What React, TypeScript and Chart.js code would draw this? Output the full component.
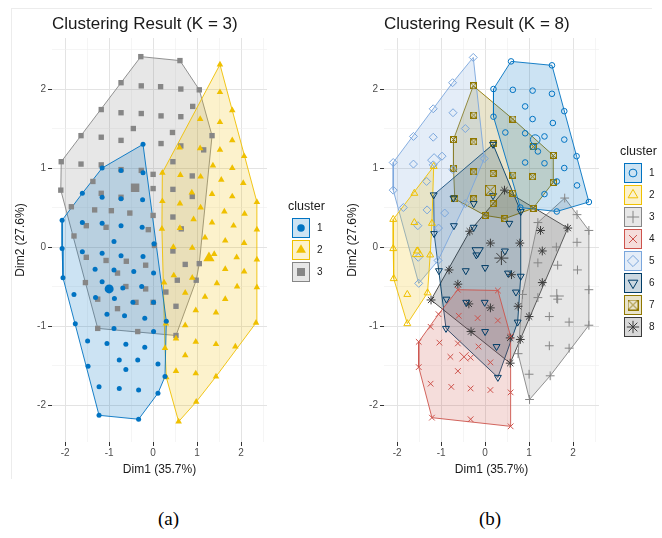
import React, { useEffect, useRef } from 'react';
import { Chart, registerables } from 'chart.js';
import { drawPoint } from 'chart.js/helpers';

Chart.register(...registerables);

type P = [number, number];

// ---------- K = 3 ----------
const K3_CLUSTER1: P[] = [
  [-0.23, 1.30], [-1.16, 1.00], [-0.73, 0.97], [-0.23, 0.94],
  [-1.61, 0.68], [-1.16, 0.63], [-0.73, 0.61], [-0.24, 0.60],
  [-2.07, 0.34], [-1.61, 0.31], [-1.16, 0.30], [-0.73, 0.27], [-0.25, 0.25],
  [-0.89, 0.07], [-2.07, -0.02], [-1.61, -0.06], [-1.16, -0.08], [-0.73, -0.11], [-0.23, -0.12], [0.02, 0.04],
  [-2.05, -0.39], [-1.80, -0.60], [-1.32, -0.28], [-0.89, -0.29], [-0.44, -0.31], [0.01, -0.33],
  [-1.16, -0.44], [-0.69, -0.52], [-0.26, -0.50],
  [-1.31, -0.64], [-0.88, -0.65], [-0.46, -0.70], [0.01, -0.70], [0.30, -0.94],
  [-1.05, -0.85], [-0.65, -0.87], [-0.19, -0.90],
  [-1.77, -0.97], [-0.89, -1.03], [0.01, -1.07],
  [-1.49, -1.19], [-1.05, -1.22], [-0.62, -1.23], [-0.19, -1.27],
  [-0.77, -1.43], [-0.35, -1.43], [0.11, -1.48],
  [-1.48, -1.51], [-0.62, -1.55], [0.27, -1.64],
  [-1.23, -1.77], [-0.77, -1.79], [-0.33, -1.81], [0.11, -1.85],
  [-1.23, -2.13], [-0.33, -2.18],
];
const K3_CLUSTER2: P[] = [
  [1.52, 2.31], [1.52, 1.96], [1.80, 1.73], [1.07, 1.62], [1.52, 1.58], [1.80, 1.35], [1.07, 1.25], [1.52, 1.23], [2.07, 1.15],
  [0.60, 1.26], [1.36, 1.03], [1.80, 1.00],
  [0.62, 0.91], [1.08, 0.89], [1.55, 0.85], [2.05, 0.81], [0.21, 0.94],
  [0.88, 0.69], [1.34, 0.67], [1.80, 0.64], [2.36, 0.57], [0.21, 0.58], [0.61, 0.55], [1.08, 0.50], [1.62, 0.45], [2.08, 0.42],
  [0.92, 0.35], [1.34, 0.31], [1.83, 0.27], [2.36, 0.22], [0.20, 0.23], [0.61, 0.24],
  [1.18, 0.12], [1.64, 0.08], [2.07, 0.05], [0.46, 0.00], [0.89, -0.01], [1.39, -0.09], [1.90, -0.13], [2.36, -0.16],
  [1.64, -0.28], [2.07, -0.31], [2.36, -0.51], [0.47, -0.36], [0.89, -0.39], [1.45, -0.46], [1.91, -0.50],
  [1.18, -0.63], [1.64, -0.66], [0.73, -0.58], [0.25, -0.45],
  [0.97, -0.80], [1.43, -0.83], [0.29, -0.97], [0.73, -0.99], [2.34, -0.96],
  [0.52, -1.16], [0.97, -1.20], [1.43, -1.23], [1.87, -1.26], [0.73, -1.37],
  [0.27, -1.28], [0.30, -1.65], [0.52, -1.57], [0.97, -1.60], [1.43, -1.64], [0.98, -1.96], [0.58, -2.21],
];
const K3_CLUSTER3: P[] = [
  [-0.28, 2.41], [0.61, 2.36], [1.05, 1.99], [1.34, 1.41],
  [-0.73, 2.08], [-0.27, 2.04], [0.17, 2.03], [0.63, 2.00],
  [-1.18, 1.74], [-0.73, 1.70], [-0.27, 1.69], [0.18, 1.66], [0.63, 1.65], [0.90, 1.78],
  [-1.64, 1.41], [-1.18, 1.39], [-0.73, 1.35], [-0.45, 1.50], [0.44, 1.45], [0.18, 1.31], [0.63, 1.28], [1.15, 1.23],
  [-2.09, 1.08], [-2.10, 0.72], [-1.64, 1.05], [-1.18, 1.04], [-0.73, 0.98], [-0.27, 0.97], [0.00, 0.92], [0.45, 1.08], [0.45, 0.73], [0.89, 0.90], [0.89, 0.64],
  [-1.37, 0.83], [-1.18, 0.68], [-0.73, 0.63], [0.00, 0.74],
  [-1.86, 0.51], [-1.33, 0.47], [-0.95, 0.46], [-0.53, 0.43], [0.00, 0.40], [0.45, 0.38], [0.64, 0.23],
  [-1.52, 0.27], [-1.07, 0.25], [-0.11, 0.22],
  [-1.80, 0.14], [-1.52, -0.13], [-1.07, -0.17], [-0.61, -0.18], [-0.17, -0.23], [0.03, 0.02], [0.45, -0.05],
  [-1.54, -0.45], [-1.26, -0.66], [-0.81, -0.33], [-0.62, -0.50], [-0.17, -0.53], [-0.81, -0.78], [-0.39, -0.70], [0.00, -0.70],
  [-1.26, -1.03], [-0.35, -1.07], [0.52, -1.12], [0.52, -0.75], [0.29, -0.57], [0.55, -0.42], [0.98, -0.42], [0.73, -0.22], [1.05, -0.21],
];
const K3_CENTERS: P[] = [[-1.0, -0.53], [1.27, -0.14], [-0.41, 0.75]];

// ---------- K = 8 ----------
const K8_CLUSTER1: P[] = [
  [0.59, 2.35], [1.52, 2.30], [0.19, 2.00], [0.63, 1.99], [1.08, 1.98], [1.52, 1.94], [0.91, 1.78], [1.80, 1.72],
  [0.19, 1.65], [1.08, 1.62], [1.54, 1.57], [0.46, 1.45], [0.91, 1.44], [1.35, 1.40], [1.80, 1.36], [1.08, 1.27],
  [1.20, 1.21], [2.08, 1.15], [0.91, 1.07], [1.35, 1.06], [1.80, 1.00], [1.63, 0.83], [2.09, 0.78], [1.35, 0.67],
  [2.36, 0.57], [1.63, 0.45], [0.80, 0.50],
];
const K8_CLUSTER2: P[] = [
  [-1.17, 1.02], [-1.61, 0.68], [-2.09, 0.35], [-1.61, 0.31], [-2.09, -0.02], [-1.55, -0.05], [-2.08, -0.40],
  [-1.77, -0.60], [-1.31, -0.58], [-1.77, -0.97], [-1.21, 0.30], [-1.25, -0.10],
];
const K8_CLUSTER3: P[] = [
  [1.81, 0.62], [2.36, 0.21], [2.09, 0.41], [1.20, 0.31], [2.09, 0.06], [1.62, 0.00], [1.20, -0.20], [1.65, -0.23],
  [2.10, -0.29], [2.36, -0.54], [1.20, -0.64], [1.65, -0.66], [1.46, -0.88], [1.91, -0.95], [2.36, -0.99],
  [1.46, -1.25], [1.91, -1.28], [1.00, -1.61], [1.48, -1.63], [1.01, -1.93], [0.85, -0.60], [0.75, -1.35],
];
const K8_CLUSTER4: P[] = [
  [-0.62, -0.54], [0.29, -0.55], [-0.60, -0.87], [-0.17, -0.90], [0.29, -0.93], [-1.24, -1.01], [-1.04, -1.21],
  [-0.62, -1.22], [-0.15, -1.26], [-0.79, -1.39], [-0.33, -1.40], [0.12, -1.46], [-0.62, -1.57], [-1.51, -1.52],
  [-1.24, -1.73], [-0.77, -1.77], [-0.33, -1.79], [0.12, -1.81], [0.58, -1.84], [-1.21, -2.16], [-0.33, -2.18],
  [0.58, -2.27], [0.58, -1.13], [-1.51, -1.20], [-1.06, -0.85],
];
const K8_CLUSTER5: P[] = [
  [-0.27, 2.40], [-0.74, 2.08], [-1.18, 1.75], [-0.73, 1.70], [-1.63, 1.40], [-1.18, 1.39], [-0.45, 1.50],
  [-0.98, 1.15], [-1.63, 1.05], [-1.18, 1.04], [-2.09, 1.07], [-2.09, 0.72], [-1.33, 0.83], [-0.73, 0.98],
  [-0.02, 1.12], [-1.86, 0.50], [-1.32, 0.47], [-0.92, 0.43], [-1.53, 0.27], [-1.06, 0.24], [-0.45, 0.55],
  [-1.52, -0.13], [-1.07, -0.17], [-1.51, -0.46],
];
const K8_CLUSTER6: P[] = [
  [0.18, 1.30], [-1.17, 0.66], [-0.26, 0.55], [0.18, 0.65], [-0.71, 0.27], [-0.26, 0.25], [-1.16, 0.17],
  [0.55, 0.30], [-0.44, -0.30], [0.00, -0.26], [0.52, -0.33], [0.81, -0.37], [0.81, 0.45], [-0.88, -0.66],
  [-0.43, -0.70], [-0.01, -0.70], [0.70, -0.57], [0.00, -1.07], [0.74, -0.95], [0.26, -1.26], [0.29, -1.65],
  [-0.89, -1.03], [-0.20, -0.10], [0.45, -0.05], [-0.72, 0.62], [-1.05, -0.30],
];
const K8_CLUSTER7: P[] = [
  [-0.27, 2.04], [-0.26, 1.67], [0.63, 1.62], [-0.72, 1.36], [-0.26, 1.33], [0.18, 1.31], [1.10, 1.27],
  [1.55, 1.16], [-0.72, 1.00], [-0.26, 0.95], [0.18, 0.93], [0.63, 0.91], [1.08, 0.89], [1.55, 0.82],
  [0.63, 0.68], [-0.69, 0.61], [-0.26, 0.61], [1.09, 0.49], [0.18, 0.55], [0.45, 0.36], [0.00, 0.40],
];
const K8_CLUSTER8: P[] = [
  [0.44, 0.72], [1.88, 0.24], [1.26, 0.21], [0.79, 0.05], [1.30, -0.05], [0.60, -0.35], [1.00, -0.88],
  [0.80, -1.17], [0.57, -1.15], [0.57, -1.47], [-0.32, -1.07], [-0.37, -0.72], [0.12, -0.77], [-0.82, -0.29],
  [-0.62, -0.47], [-1.23, -0.67], [0.12, 0.05], [-0.35, 0.20], [0.75, -0.75], [1.30, -0.45],
];
const K8_CENTERS: P[] = [
  [1.14, 1.36], [-1.53, -0.08], [1.63, -0.62], [-0.48, -1.39],
  [-1.16, 1.10], [-0.17, -0.05], [0.12, 0.72], [0.37, -0.14],
];

const CLUSTER_LABELS = ['1', '2', '3', '4', '5', '6', '7', '8'];
const PALETTE = ['#0073C2', '#EFC000', '#868686', '#CD534C', '#7AA6DC', '#003C67', '#8F7700', '#3B3B3B'];
const TITLE_K3 = 'Clustering Result (K = 3)';
const TITLE_K8 = 'Clustering Result (K = 8)';
const X_TITLE = 'Dim1 (35.7%)';
const Y_TITLE = 'Dim2 (27.6%)';

const FONT = '"Liberation Sans", Arial, sans-serif';

function rgba(hex: string, a: number) {
  const n = parseInt(hex.slice(1), 16);
  return `rgba(${(n >> 16) & 255},${(n >> 8) & 255},${n & 255},${a})`;
}

function convexHull(pts: P[]): P[] {
  const s = [...pts].sort((a, b) => a[0] - b[0] || a[1] - b[1]);
  const cross = (o: P, a: P, b: P) => (a[0] - o[0]) * (b[1] - o[1]) - (a[1] - o[1]) * (b[0] - o[0]);
  const lower: P[] = [];
  for (const p of s) {
    while (lower.length >= 2 && cross(lower[lower.length - 2], lower[lower.length - 1], p) <= 0) lower.pop();
    lower.push(p);
  }
  const upper: P[] = [];
  for (let i = s.length - 1; i >= 0; i--) {
    const p = s[i];
    while (upper.length >= 2 && cross(upper[upper.length - 2], upper[upper.length - 1], p) <= 0) upper.pop();
    upper.push(p);
  }
  lower.pop();
  upper.pop();
  const h = lower.concat(upper);
  h.push(h[0]);
  return h;
}

function boxedX(color: string, size: number) {
  const c = document.createElement('canvas');
  c.width = size;
  c.height = size;
  const g = c.getContext('2d')!;
  g.strokeStyle = color;
  g.lineWidth = 1;
  g.strokeRect(0.5, 0.5, size - 1, size - 1);
  g.beginPath();
  g.moveTo(1, 1);
  g.lineTo(size - 1, size - 1);
  g.moveTo(size - 1, 1);
  g.lineTo(1, size - 1);
  g.stroke();
  return c;
}

type Style = {
  pointStyle: any;
  rotation: number;
  radius: number;
  centerRadius: number;
  filled: boolean;
  borderWidth: number;
  centerStyle?: any;
};

type ClusterDef = { label: string; color: string; points: P[]; center: P; style: Style };

const ggLegend = {
  id: 'ggLegend',
  afterDraw(chart: any, _args: any, opts: any) {
    const clusters: ClusterDef[] = opts.clusters || [];
    if (!clusters.length) return;
    const ctx = chart.ctx;
    const area = chart.chartArea;
    const keyH = 22;
    const titleH = 20;
    const total = titleH + clusters.length * keyH;
    const top = (area.top + area.bottom) / 2 - total / 2;
    const x0 = area.right + 21;
    ctx.save();
    ctx.fillStyle = '#1a1a1a';
    ctx.font = `12.5px ${FONT}`;
    ctx.textBaseline = 'middle';
    ctx.textAlign = 'left';
    ctx.fillText('cluster', x0, top + 10);
    clusters.forEach((c, i) => {
      const bx = area.right + 25;
      const by = top + titleH + i * keyH + 1;
      const bw = 18;
      const bh = 20;
      ctx.fillStyle = '#ffffff';
      ctx.fillRect(bx, by, bw, bh);
      ctx.fillStyle = rgba(c.color, 0.2);
      ctx.fillRect(bx, by, bw, bh);
      ctx.strokeStyle = c.color;
      ctx.lineWidth = 1;
      ctx.strokeRect(bx + 0.5, by + 0.5, bw - 1, bh - 1);
      ctx.fillStyle = c.style.filled ? c.color : 'rgba(0,0,0,0)';
      ctx.strokeStyle = c.color;
      ctx.lineWidth = c.style.borderWidth;
      drawPoint(ctx, {
        pointStyle: c.style.centerStyle || c.style.pointStyle,
        rotation: c.style.rotation,
        radius: c.style.filled ? c.style.radius * 1.5 : c.style.radius * 1.4,
        borderWidth: c.style.borderWidth,
      } as any, bx + bw / 2, by + bh / 2);
      ctx.fillStyle = '#1a1a1a';
      ctx.font = `10px ${FONT}`;
      ctx.fillText(c.label, bx + bw + 7, by + bh / 2);
    });
    ctx.restore();
  },
};

function buildConfig(title: string, clusters: ClusterDef[]): any {
  const pointSets: any[] = [];
  const centerSets: any[] = [];
  const hullSets: any[] = [];
  clusters.forEach((c) => {
    const st = c.style;
    pointSets.push({
      type: 'scatter',
      label: c.label,
      data: c.points.map(([x, y]) => ({ x, y })),
      pointStyle: st.pointStyle,
      rotation: st.rotation,
      pointRadius: st.radius,
      pointBorderWidth: st.borderWidth,
      borderColor: c.color,
      backgroundColor: st.filled ? c.color : 'rgba(0,0,0,0)',
      pointBackgroundColor: st.filled ? c.color : 'rgba(0,0,0,0)',
      pointBorderColor: c.color,
    });
    centerSets.push({
      type: 'scatter',
      label: c.label + ' centre',
      data: [{ x: c.center[0], y: c.center[1] }],
      pointStyle: st.centerStyle || st.pointStyle,
      rotation: st.rotation,
      pointRadius: st.centerRadius,
      pointBorderWidth: st.borderWidth,
      pointBackgroundColor: st.filled ? c.color : 'rgba(0,0,0,0)',
      pointBorderColor: c.color,
    });
    hullSets.push({
      type: 'line',
      label: c.label + ' hull',
      data: convexHull(c.points).map(([x, y]) => ({ x, y })),
      borderColor: c.color,
      borderWidth: 0.9,
      backgroundColor: rgba(c.color, 0.2),
      fill: 'shape',
      pointRadius: 0,
      tension: 0,
    });
  });

  const isMajor = (v: any) => typeof v === 'number' && Math.abs(v - Math.round(v)) < 1e-6;
  const axisCommon = (min: number, max: number) => ({
    type: 'linear',
    min,
    max,
    ticks: {
      stepSize: 0.5,
      includeBounds: false,
      autoSkip: false,
      maxTicksLimit: 30,
      maxRotation: 0,
      color: '#4d4d4d',
      font: { family: FONT, size: 10 },
      callback: (v: number) => (isMajor(v) ? String(Math.round(v)) : ''),
    },
    grid: {
      color: (c: any) => (isMajor(c.tick && c.tick.value) ? '#e3e3e3' : '#efefef'),
      lineWidth: (c: any) => (isMajor(c.tick && c.tick.value) ? 1 : 0.6),
      tickColor: (c: any) => (isMajor(c.tick && c.tick.value) ? '#333333' : 'rgba(0,0,0,0)'),
      tickWidth: 1,
      tickLength: 4,
      drawTicks: true,
    },
    border: { display: false },
  });

  const x: any = axisCommon(-2.3, 2.59);
  x.position = 'bottom';
  x.ticks.padding = 1;
  x.title = { display: true, text: X_TITLE, color: '#1a1a1a', font: { family: FONT, size: 12 }, padding: { top: 0, bottom: 3 } };
  x.afterFit = (s: any) => { s.height = 38; };

  const y: any = axisCommon(-2.468, 2.646);
  y.position = 'left';
  y.ticks.padding = 2;
  y.title = { display: true, text: Y_TITLE, color: '#1a1a1a', font: { family: FONT, size: 12 }, padding: { top: 2, bottom: 0 } };
  y.afterFit = (s: any) => { s.width = 41; };

  return {
    type: 'scatter',
    data: { datasets: [...centerSets, ...pointSets, ...hullSets] },
    options: {
      responsive: false,
      animation: false,
      devicePixelRatio: 1,
      layout: { padding: { left: 11, right: 64, top: 0, bottom: 0 } },
      scales: { x, y },
      plugins: {
        legend: { display: false },
        tooltip: { enabled: false },
        title: {
          display: true,
          text: title,
          align: 'start',
          fullSize: false,
          color: '#1a1a1a',
          font: { family: FONT, size: 17, weight: 'normal' },
          padding: { top: 13.8, bottom: 3.8 },
        },
        ggLegend: { clusters },
      },
    },
    plugins: [ggLegend],
  };
}

export default function App() {
  const ref1 = useRef<HTMLCanvasElement>(null);
  const ref2 = useRef<HTMLCanvasElement>(null);

  useEffect(() => {
    const filledStyles: Style[] = [
      { pointStyle: 'circle', rotation: 0, radius: 2.5, centerRadius: 4.5, filled: true, borderWidth: 0 },
      { pointStyle: 'triangle', rotation: 0, radius: 3.8, centerRadius: 6.5, filled: true, borderWidth: 0 },
      { pointStyle: 'rect', rotation: 0, radius: 3.8, centerRadius: 6, filled: true, borderWidth: 0 },
    ];
    const k3: ClusterDef[] = [K3_CLUSTER1, K3_CLUSTER2, K3_CLUSTER3].map((pts, i) => ({
      label: CLUSTER_LABELS[i],
      color: PALETTE[i],
      points: pts,
      center: K3_CENTERS[i],
      style: filledStyles[i],
    }));

    const olive = PALETTE[6];
    const openStyles: Style[] = [
      { pointStyle: 'circle', rotation: 0, radius: 2.8, centerRadius: 4.8, filled: false, borderWidth: 1 },
      { pointStyle: 'triangle', rotation: 0, radius: 4, centerRadius: 6.5, filled: false, borderWidth: 1 },
      { pointStyle: 'cross', rotation: 0, radius: 4.4, centerRadius: 7, filled: false, borderWidth: 1 },
      { pointStyle: 'crossRot', rotation: 0, radius: 4, centerRadius: 6.5, filled: false, borderWidth: 1 },
      { pointStyle: 'rectRot', rotation: 0, radius: 4, centerRadius: 6.5, filled: false, borderWidth: 1 },
      { pointStyle: 'triangle', rotation: 180, radius: 4, centerRadius: 6.5, filled: false, borderWidth: 1 },
      { pointStyle: boxedX(olive, 7), rotation: 0, radius: 3.5, centerRadius: 6, filled: false, borderWidth: 1, centerStyle: boxedX(olive, 11) },
      { pointStyle: 'star', rotation: 0, radius: 4.4, centerRadius: 7, filled: false, borderWidth: 1 },
    ];
    const k8Pts = [K8_CLUSTER1, K8_CLUSTER2, K8_CLUSTER3, K8_CLUSTER4, K8_CLUSTER5, K8_CLUSTER6, K8_CLUSTER7, K8_CLUSTER8];
    const k8: ClusterDef[] = k8Pts.map((pts, i) => ({
      label: CLUSTER_LABELS[i],
      color: PALETTE[i],
      points: pts,
      center: K8_CENTERS[i],
      style: openStyles[i],
    }));

    const c1 = new Chart(ref1.current!, buildConfig(TITLE_K3, k3));
    const c2 = new Chart(ref2.current!, buildConfig(TITLE_K8, k8));
    return () => {
      c1.destroy();
      c2.destroy();
    };
  }, []);

  const capStyle: React.CSSProperties = {
    position: 'absolute',
    top: 507,
    font: '19px "Liberation Serif", "Times New Roman", serif',
    color: '#000',
    lineHeight: '24px',
  };

  return (
    <div style={{ position: 'absolute', left: 0, top: 0, width: 662, height: 538, background: '#fff', overflow: 'hidden' }}>
      <div style={{ position: 'absolute', left: 11, top: 8, width: 640, height: 470, borderTop: '1px solid #ececec', borderLeft: '1px solid #ececec' }} />
      <canvas ref={ref1} width={331} height={480} style={{ position: 'absolute', left: 0, top: 0, width: 331, height: 480 }} />
      <canvas ref={ref2} width={331} height={480} style={{ position: 'absolute', left: 332, top: 0, width: 331, height: 480 }} />
      <div style={{ ...capStyle, left: 158 }}>(a)</div>
      <div style={{ ...capStyle, left: 479 }}>(b)</div>
    </div>
  );
}
